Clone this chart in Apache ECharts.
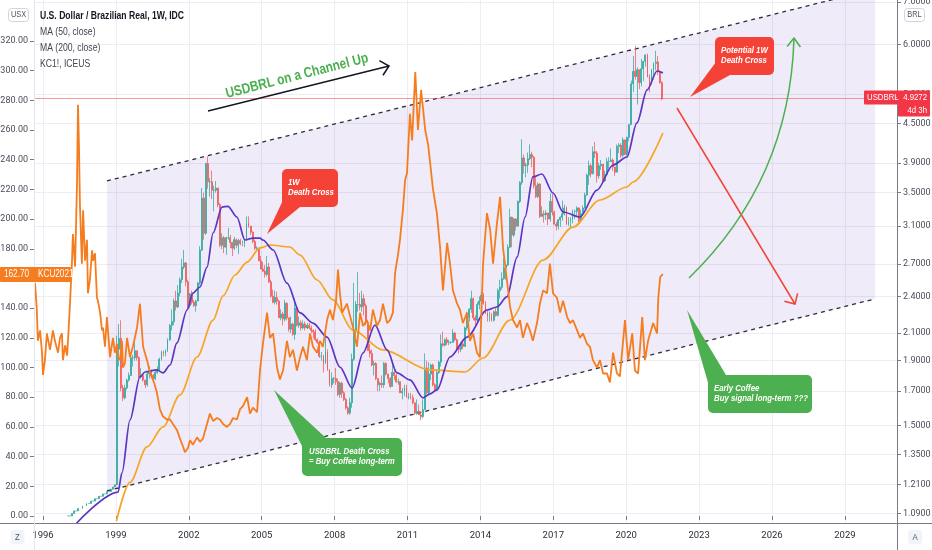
<!DOCTYPE html>
<html>
<head>
<meta charset="utf-8">
<title>USDBRL vs Coffee</title>
<script src="https://cdn.jsdelivr.net/npm/echarts@6.0.0/dist/echarts.min.js"></script>
<style>
html,body{margin:0;padding:0;background:#ffffff;}
#chart{width:932px;height:550px;}
</style>
</head>
<body>
<div id="chart"></div>
<script>
// ================= DATA =================
const yearTicks = [1996,1999,2002,2005,2008,2011,2014,2017,2020,2023,2026,2029];
const coffeeTicks = [0,20,40,60,80,100,120,140,160,180,200,220,240,260,280,300,320];
const usdTicks = [1.09,1.21,1.35,1.5,1.7,1.9,2.1,2.4,2.7,3.1,3.5,3.9,4.5,5.0,6.0,7.0];

// USDBRL monthly closes 1997-1998 (crawling peg)
const usdPre = [1.08,1.08,1.09,1.10,1.10,1.11,1.11,1.12,1.12,1.13,1.13,1.14,
                1.14,1.15,1.15,1.16,1.16,1.17,1.17,1.18,1.18,1.19,1.20,1.21];
// USDBRL monthly close / high / low, Jan 1999 .. Jun 2021
const usdClose = [
1.98,2.06,1.72,1.66,1.72,1.77,1.80,1.92,1.92,1.97,1.92,1.79,
1.80,1.77,1.74,1.81,1.83,1.80,1.78,1.82,1.84,1.91,1.96,1.95,
1.97,2.05,2.16,2.19,2.36,2.31,2.43,2.55,2.67,2.71,2.53,2.32,
2.42,2.35,2.32,2.36,2.52,2.84,3.43,3.02,3.89,3.64,3.64,3.53,
3.53,3.56,3.35,2.89,2.97,2.87,2.97,2.97,2.92,2.86,2.95,2.89,
2.94,2.91,2.91,2.94,3.13,3.10,3.03,2.93,2.86,2.86,2.73,2.65,
2.63,2.60,2.67,2.53,2.40,2.35,2.39,2.36,2.22,2.25,2.21,2.34,
2.22,2.13,2.17,2.09,2.30,2.16,2.18,2.14,2.17,2.14,2.16,2.14,
2.12,2.11,2.05,2.03,1.93,1.93,1.88,1.96,1.84,1.74,1.78,1.78,
1.76,1.68,1.75,1.69,1.65,1.60,1.57,1.63,1.91,2.12,2.33,2.33,
2.31,2.38,2.32,2.18,1.97,1.95,1.87,1.88,1.78,1.74,1.75,1.74,
1.88,1.81,1.78,1.73,1.82,1.80,1.76,1.76,1.69,1.70,1.72,1.66,
1.67,1.66,1.63,1.57,1.58,1.56,1.55,1.59,1.85,1.69,1.81,1.87,
1.74,1.71,1.82,1.89,2.02,2.01,2.05,2.03,2.03,2.03,2.10,2.05,
1.99,1.98,2.02,2.00,2.14,2.22,2.29,2.38,2.22,2.20,2.33,2.36,
2.41,2.34,2.26,2.23,2.24,2.20,2.27,2.24,2.45,2.48,2.56,2.66,
2.69,2.87,3.20,3.00,3.18,3.10,3.39,3.63,3.97,3.86,3.87,3.96,
4.02,3.98,3.59,3.45,3.61,3.21,3.24,3.23,3.25,3.18,3.39,3.26,
3.12,3.10,3.17,3.20,3.24,3.31,3.12,3.15,3.17,3.27,3.27,3.31,
3.16,3.24,3.31,3.47,3.73,3.86,3.75,4.06,4.04,3.72,3.86,3.88,
3.65,3.74,3.92,3.92,3.94,3.84,3.77,4.14,4.16,4.01,4.24,4.02,
4.28,4.48,5.20,5.44,5.34,5.47,5.22,5.49,5.64,5.77,5.33,5.19,
5.47,5.60,5.63,5.43,5.22,4.9272];
const usdHigh = [
2.08,2.17,2.20,1.74,1.74,1.78,1.82,1.95,1.94,2.03,1.97,1.93,
1.85,1.80,1.77,1.82,1.86,1.84,1.81,1.83,1.86,1.92,1.97,1.97,
1.98,2.06,2.17,2.29,2.38,2.45,2.50,2.57,2.75,2.84,2.72,2.55,
2.43,2.45,2.37,2.37,2.53,2.88,3.56,3.50,3.90,3.99,3.69,3.79,
3.59,3.65,3.56,3.37,3.02,2.99,2.98,3.08,3.00,2.92,2.98,2.96,
2.96,2.96,2.94,2.96,3.21,3.21,3.10,3.04,2.95,2.88,2.86,2.78,
2.72,2.69,2.78,2.71,2.55,2.46,2.45,2.44,2.37,2.29,2.27,2.37,
2.35,2.22,2.23,2.18,2.38,2.31,2.23,2.20,2.20,2.19,2.18,2.18,
2.16,2.13,2.13,2.06,2.04,1.96,1.94,2.10,1.98,1.84,1.82,1.79,
1.85,1.78,1.76,1.76,1.70,1.66,1.61,1.66,1.95,2.52,2.36,2.62,
2.43,2.45,2.42,2.34,2.20,2.02,1.98,1.90,1.89,1.78,1.76,1.80,
1.89,1.89,1.81,1.79,1.88,1.85,1.81,1.78,1.76,1.72,1.74,1.74,
1.69,1.69,1.68,1.63,1.65,1.62,1.58,1.65,1.95,1.90,1.89,1.88,
1.88,1.75,1.84,1.90,2.09,2.11,2.06,2.07,2.05,2.04,2.13,2.11,
2.06,2.00,2.02,2.04,2.15,2.27,2.30,2.45,2.39,2.24,2.35,2.40,
2.44,2.43,2.36,2.28,2.27,2.26,2.28,2.30,2.47,2.55,2.62,2.76,
2.70,2.90,3.30,3.21,3.19,3.19,3.40,3.65,4.25,4.02,3.90,4.05,
4.17,4.06,4.00,3.70,3.63,3.62,3.33,3.28,3.28,3.25,3.49,3.48,
3.28,3.15,3.18,3.21,3.40,3.35,3.33,3.20,3.20,3.29,3.29,3.33,
3.32,3.29,3.34,3.50,3.75,3.93,3.89,4.14,4.21,4.07,3.90,3.94,
3.88,3.79,3.97,3.98,4.11,3.96,3.84,4.17,4.19,4.19,4.28,4.24,
4.29,4.49,5.26,5.75,5.97,5.52,5.48,5.69,5.65,5.79,5.80,5.38,
5.49,5.62,5.86,5.75,5.46,5.25];
const usdLow = [
1.21,1.86,1.70,1.64,1.65,1.71,1.76,1.80,1.86,1.90,1.90,1.78,
1.78,1.76,1.72,1.73,1.78,1.78,1.76,1.77,1.81,1.83,1.90,1.93,
1.93,1.96,2.04,2.12,2.16,2.28,2.30,2.40,2.52,2.65,2.49,2.29,
2.30,2.33,2.31,2.27,2.36,2.50,2.83,2.95,3.00,3.55,3.45,3.42,
3.27,3.50,3.32,2.87,2.85,2.81,2.79,2.95,2.86,2.78,2.84,2.86,
2.80,2.89,2.88,2.87,2.94,3.08,3.00,2.91,2.84,2.82,2.73,2.65,
2.62,2.57,2.58,2.52,2.39,2.34,2.33,2.33,2.22,2.20,2.16,2.19,
2.20,2.11,2.10,2.08,2.05,2.15,2.14,2.12,2.13,2.12,2.13,2.13,
2.10,2.06,2.04,2.02,1.92,1.90,1.82,1.88,1.83,1.73,1.72,1.75,
1.74,1.67,1.66,1.66,1.64,1.59,1.56,1.56,1.60,1.90,2.07,2.27,
2.28,2.27,2.24,2.16,1.97,1.92,1.86,1.80,1.77,1.70,1.70,1.72,
1.72,1.80,1.75,1.72,1.73,1.77,1.75,1.74,1.69,1.65,1.67,1.66,
1.65,1.65,1.62,1.56,1.56,1.56,1.53,1.54,1.59,1.68,1.68,1.77,
1.73,1.70,1.70,1.81,1.86,2.00,2.00,2.01,2.01,2.02,2.03,2.04,
1.98,1.95,1.96,1.98,2.00,2.12,2.19,2.26,2.20,2.16,2.19,2.29,
2.33,2.33,2.25,2.19,2.19,2.19,2.19,2.23,2.23,2.38,2.46,2.55,
2.55,2.68,2.86,2.87,2.98,3.05,3.09,3.37,3.60,3.75,3.70,3.76,
3.94,3.84,3.55,3.43,3.43,3.19,3.21,3.14,3.17,3.11,3.15,3.22,
3.12,3.05,3.06,3.09,3.16,3.22,3.11,3.10,3.08,3.13,3.18,3.22,
3.14,3.15,3.22,3.30,3.46,3.60,3.70,3.74,3.97,3.63,3.68,3.80,
3.64,3.64,3.72,3.82,3.91,3.79,3.72,3.77,4.04,3.97,3.98,4.01,
4.00,4.22,4.48,5.05,5.28,4.82,5.10,5.15,5.25,5.53,5.32,5.04,
5.19,5.28,5.46,5.37,5.20,4.90];
const usdLast = 4.9272;

// MA (50, close)
const ma50T = [1997.36,1999.09,1999.25,1999.58,1999.99,2000.20,2000.69,2000.94,2001.23,2001.51,2001.93,2002.17,2002.46,2002.75,2003.00,2003.37,2003.61,2003.98,2004.31,2004.64,2004.93,2005.05,2005.47,2006.04,2006.58,2007.11,2007.69,2008.22,2008.72,2009.17,2009.66,2010.16,2010.57,2011.10,2011.64,2011.93,2012.21,2012.75,2013.45,2014.27,2014.68,2015.09,2015.51,2015.84,2016.16,2016.53,2016.99,2017.40,2018.10,2018.80,2019.46,2020.03,2020.44,2020.86,2021.27,2021.51];
const ma50V = [1.05,1.178,1.263,1.531,1.790,1.823,1.837,1.817,1.870,2.026,2.284,2.429,2.483,2.670,3.022,3.321,3.330,3.203,2.946,2.967,2.967,2.946,2.841,2.519,2.260,2.178,2.070,1.856,1.720,1.953,2.162,1.975,1.817,1.771,1.659,1.683,1.708,1.925,2.070,2.284,2.309,2.395,2.769,3.203,3.705,3.745,3.495,3.262,3.203,3.533,3.870,3.984,4.509,5.084,5.447,5.410];
// MA (200, close)
const ma200T = [1999.02,1999.58,2000.28,2000.94,2001.64,2002.34,2003.00,2003.41,2003.90,2004.40,2004.93,2005.34,2006.16,2006.58,2007.28,2007.93,2008.76,2009.99,2011.93,2013.37,2014.11,2015.22,2016.58,2017.81,2018.92,2020.03,2020.28,2021.51];
const ma200V = [1.06,1.22,1.388,1.493,1.677,1.925,2.202,2.404,2.594,2.719,2.862,2.893,2.872,2.789,2.547,2.369,2.123,1.975,1.837,1.823,1.918,2.202,2.739,3.088,3.407,3.572,3.638,4.347];

// KC1! coffee (US cents/lb)
const coffeeT = [1995.67,1995.74,1995.79,1995.88,1995.96,1996.00,1996.08,1996.16,1996.29,1996.41,1996.49,1996.62,1996.70,1996.78,1996.82,1996.91,1996.99,
1997.03,1997.11,1997.19,1997.23,1997.32,1997.40,1997.44,1997.48,1997.52,1997.60,1997.65,1997.73,1997.81,1997.85,1997.93,
1998.02,1998.06,1998.14,1998.22,1998.26,1998.35,1998.43,1998.47,1998.55,1998.63,1998.76,1998.88,1998.96,
1999.05,1999.09,1999.17,1999.25,1999.29,1999.37,1999.46,1999.58,1999.70,1999.87,1999.99,
2000.12,2000.28,2000.41,2000.57,2000.69,2000.81,2000.94,
2001.10,2001.23,2001.35,2001.51,2001.64,2001.76,2001.84,2001.97,
2002.05,2002.17,2002.34,2002.46,2002.58,2002.75,2002.87,
2003.00,2003.16,2003.28,2003.41,2003.57,2003.70,2003.82,2003.98,
2004.11,2004.23,2004.40,2004.52,2004.64,2004.81,2004.93,
2005.05,2005.22,2005.34,2005.47,2005.63,2005.75,2005.88,
2006.04,2006.16,2006.29,2006.45,2006.58,2006.70,2006.86,2006.99,
2007.11,2007.28,2007.40,2007.52,2007.69,2007.81,2007.93,
2008.06,2008.14,2008.22,2008.31,2008.51,2008.63,2008.76,2008.92,
2009.05,2009.17,2009.33,2009.46,2009.58,2009.74,2009.87,2009.99,
2010.16,2010.28,2010.40,2010.49,2010.60,2010.69,2010.81,2010.90,2010.98,
2011.10,2011.19,2011.32,2011.43,2011.56,2011.73,2011.85,2011.93,
2012.05,2012.21,2012.34,2012.46,2012.63,2012.75,2012.87,
2013.04,2013.16,2013.28,2013.45,2013.57,2013.70,2013.86,2013.98,
2014.11,2014.27,2014.40,2014.52,2014.68,2014.81,2014.93,
2015.09,2015.22,2015.34,2015.51,2015.63,2015.75,2015.92,
2016.04,2016.16,2016.33,2016.45,2016.58,2016.74,2016.86,2016.99,
2017.15,2017.28,2017.40,2017.57,2017.69,2017.81,2017.98,
2018.10,2018.22,2018.39,2018.51,2018.63,2018.80,2018.92,
2019.05,2019.21,2019.33,2019.46,2019.62,2019.74,2019.95,
2020.08,2020.25,2020.36,2020.49,2020.66,2020.77,2020.90,
2021.11,2021.27,2021.32,2021.40,2021.51];
const coffeeV = [157,141,118,125,110,95,105,123,112,125,118,110,120,123,105,115,108,
118,143,170,190,168,224,277,250,210,170,206,172,186,150,159,
179,172,177,147,145,137,125,127,114,134,107,120,110,
116,107,105,118,100,103,120,107,114,127,143,
114,105,96,90,83,72,67,
65,65,62,58,52,47,43,46,
51,48,53,50,52,62,69,
64,66,65,62,60,62,66,65,
72,74,80,69,73,70,98,
116,137,120,123,100,92,98,
118,107,112,98,107,114,105,123,
114,110,118,114,132,139,132,
145,166,150,137,143,135,127,114,
137,128,132,125,139,128,132,143,
130,132,137,164,175,186,206,226,231,
271,253,299,260,287,260,250,238,
220,204,181,152,184,170,152,
143,139,130,137,118,123,110,107,
170,204,193,170,197,215,181,
159,141,132,127,132,120,130,
125,118,130,143,152,150,170,150,
147,137,145,134,130,132,125,
120,123,116,114,105,100,105,
96,96,90,110,96,94,132,
105,123,98,96,134,105,118,
130,123,147,161,163];
const coffeeLast = 162.70;

// Channel Up trend lines (time, USDBRL)
const chanT = [1998.634, 2030.239];
const chanUpper = [3.652, 7.339];
const chanLower = [1.183, 2.378];

// ================= HELPERS =================
function hasFont(name) {
  const c = document.createElement('canvas').getContext('2d');
  const s = 'USDBRL 0123456789 Death Cross';
  c.font = '40px monospace'; const w1 = c.measureText(s).width;
  c.font = '40px "' + name + '", monospace'; const w2 = c.measureText(s).width;
  return Math.abs(w1 - w2) > 0.5;
}
const NARROW = hasFont('Liberation Sans Narrow');
const AXIS_FONT = NARROW ? 'Liberation Sans Narrow' : 'Roboto';
const AXIS_SIZE = NARROW ? 10.5 : 9;
const TXT_FAMILY = NARROW ? '"Liberation Sans Narrow"' : '"Liberation Sans", Arial, sans-serif';
const TXT_SCALE = NARROW ? 1 : 0.82;

const W = 932, H = 550;
const GRID = {left: 34, right: 35, top: 0, bottom: 27};
const plotRight = W - GRID.right;
const plotBottom = H - GRID.bottom;

const zip = (t, v) => t.map((x, i) => [x, v[i]]);

const candles = [];
let prevC = usdPre[0];
usdPre.forEach((c, i) => {
  candles.push([1997 + (i + 0.5) / 12, prevC, c, Math.min(prevC, c), Math.max(prevC, c)]);
  prevC = c;
});
usdClose.forEach((c, i) => {
  candles.push([1999 + (i + 0.5) / 12, prevC, c, usdLow[i], usdHigh[i]]);
  prevC = c;
});

// ================= CHART =================
const chart = echarts.init(document.getElementById('chart'), null, {renderer: 'canvas'});
const axisLabelBase = {color: '#4a4e59', fontFamily: AXIS_FONT, fontSize: AXIS_SIZE};

chart.setOption({
  animation: false,
  backgroundColor: '#ffffff',
  grid: {left: GRID.left, right: GRID.right, top: GRID.top, bottom: GRID.bottom, containLabel: false, outerBoundsMode: 'none'},
  xAxis: {
    type: 'value', min: 1995.63, max: 2031.144,
    axisLine: {show: false},
    axisTick: {show: true, customValues: yearTicks, length: 4, lineStyle: {color: '#787b86'}},
    axisLabel: Object.assign({}, axisLabelBase, {customValues: yearTicks, margin: 8, color: '#2a2e39',
      fontSize: AXIS_SIZE + 0.5, formatter: v => String(Math.round(v))}),
    splitLine: {show: true, lineStyle: {color: '#eceef3', width: 1}}
  },
  yAxis: [
    {
      type: 'value', position: 'left', min: -4.72, max: 347.6,
      axisLine: {show: false},
      axisTick: {show: true, customValues: coffeeTicks, length: 4, lineStyle: {color: '#787b86'}},
      axisLabel: Object.assign({}, axisLabelBase, {customValues: coffeeTicks, margin: 6, formatter: v => v.toFixed(2)}),
      splitLine: {show: false}
    },
    {
      type: 'log', position: 'right', min: 1.0527, max: 7.051,
      axisLine: {show: false},
      axisTick: {show: true, customValues: usdTicks, length: 4, lineStyle: {color: '#787b86'}},
      axisLabel: Object.assign({}, axisLabelBase, {customValues: usdTicks, margin: 6, formatter: v => Number(v).toFixed(4)}),
      splitLine: {show: true, lineStyle: {color: '#eceef3', width: 1}}
    }
  ],
  series: [
    {
      name: 'channel', type: 'custom', yAxisIndex: 1, silent: true, z: 1,
      renderItem: function (params, api) {
        const a = api.coord([chanT[0], chanUpper[0]]);
        const b = api.coord([chanT[1], chanUpper[1]]);
        const c = api.coord([chanT[1], chanLower[1]]);
        const d = api.coord([chanT[0], chanLower[0]]);
        return {type: 'polygon', shape: {points: [a, b, c, d]}, style: {fill: 'rgba(103,58,183,0.10)'}};
      },
      data: [[chanT[0], chanUpper[0]]]
    },
    {
      name: 'upper', type: 'line', yAxisIndex: 1, data: zip(chanT, chanUpper), symbol: 'none', silent: true, z: 3,
      lineStyle: {color: '#2a2e39', width: 1.3, type: [4, 4]}
    },
    {
      name: 'lower', type: 'line', yAxisIndex: 1, data: zip(chanT, chanLower), symbol: 'none', silent: true, z: 3,
      lineStyle: {color: '#2a2e39', width: 1.3, type: [4, 4]}
    },
    {
      name: 'USDBRL', type: 'candlestick', yAxisIndex: 1, data: candles, barWidth: 1.4, z: 4,
      itemStyle: {color: '#26a69a', color0: '#ef5350', borderColor: '#26a69a', borderColor0: '#ef5350', borderWidth: 0.8, opacity: 0.9},
      markLine: {
        silent: true, symbol: ['none', 'none'], label: {show: false},
        lineStyle: {color: 'rgba(242,54,69,0.5)', width: 1, type: 'solid'},
        data: [{yAxis: usdLast}]
      }
    },
    {
      name: 'MA (200, close)', type: 'line', yAxisIndex: 1, data: zip(ma200T, ma200V), smooth: 0.3, smoothMonotone: 'x',
      symbol: 'none', z: 5, lineStyle: {color: '#f5a623', width: 1.7}, itemStyle: {color: '#f5a623'}
    },
    {
      name: 'MA (50, close)', type: 'line', yAxisIndex: 1, data: zip(ma50T, ma50V), smooth: 0.3, smoothMonotone: 'x',
      symbol: 'none', z: 5, lineStyle: {color: '#5b35c4', width: 1.7}, itemStyle: {color: '#5b35c4'}
    },
    {
      name: 'KC1!, ICEUS', type: 'line', yAxisIndex: 0, data: zip(coffeeT, coffeeV),
      symbol: 'none', z: 6, lineStyle: {color: '#f57d1f', width: 1.8}, itemStyle: {color: '#f57d1f'}
    }
  ]
});

// ================= ANNOTATIONS =================
function T(x, y, text, o) {
  o = o || {};
  const size = o.size || 10, weight = o.weight || 'normal', fst = o.style || 'normal';
  const align = o.align || 'left';
  return {
    type: 'text', x: x, y: y, rotation: o.rot || 0, scaleX: (o.noScale ? 1 : TXT_SCALE), z: 110, silent: true,
    style: {
      text: text, fill: o.color || '#131722',
      font: fst + ' ' + weight + ' ' + size + 'px ' + TXT_FAMILY,
      textAlign: align, align: align, textVerticalAlign: 'middle', verticalAlign: 'middle'
    }
  };
}
function L(x1, y1, x2, y2, stroke, w) {
  return {type: 'line', z: 105, silent: true, shape: {x1: x1, y1: y1, x2: x2, y2: y2}, style: {stroke: stroke, lineWidth: w || 1}};
}
function chevron(tip, from, len, ang, color) {
  const a = Math.atan2(from[1] - tip[1], from[0] - tip[0]);
  const p1 = [tip[0] + len * Math.cos(a + ang), tip[1] + len * Math.sin(a + ang)];
  const p2 = [tip[0] + len * Math.cos(a - ang), tip[1] + len * Math.sin(a - ang)];
  return {type: 'polyline', z: 105, silent: true, shape: {points: [p1, tip, p2]}, style: {stroke: color, lineWidth: 1.5, fill: null}};
}
function callout(color, bx, by, bw, bh, tail, lines, tx, ty, lh) {
  const els = [
    {type: 'polygon', z: 106, silent: true, shape: {points: tail}, style: {fill: color}},
    {type: 'rect', z: 106, silent: true, shape: {x: bx, y: by, width: bw, height: bh, r: 5}, style: {fill: color}}
  ];
  lines.forEach((s, i) => els.push(T(tx, ty + i * lh, s, {size: 9.5, weight: 'bold', style: 'italic', color: '#ffffff'})));
  return els;
}

const yCof = chart.convertToPixel({yAxisIndex: 0}, coffeeLast);
const yUsd = chart.convertToPixel({yAxisIndex: 1}, usdLast);

let g = [];
// frame lines
g.push(L(0, plotBottom + 0.5, W, plotBottom + 0.5, '#787b86', 1));
g.push(L(plotRight + 0.5, 0, plotRight + 0.5, H, '#787b86', 1));
g.push(L(GRID.left + 0.5, 0, GRID.left + 0.5, H, '#e3e6ec', 1));

// legend text
g.push(T(40, 16, 'U.S. Dollar / Brazilian Real, 1W, IDC', {size: 10.5, weight: 'bold', color: '#131722'}));
g.push(T(40, 32, 'MA (50, close)', {size: 10.5, color: '#434651'}));
g.push(T(40, 48, 'MA (200, close)', {size: 10.5, color: '#434651'}));
g.push(T(40, 64, 'KC1!, ICEUS', {size: 10.5, color: '#434651'}));

// scale badges
g.push({type: 'rect', z: 110, silent: true, shape: {x: 8.5, y: 8.5, width: 20, height: 13, r: 3}, style: {fill: '#ffffff', stroke: '#d1d4dc', lineWidth: 1}});
g.push(T(18.5, 15, 'USX', {size: 9, color: '#50535e', align: 'center'}));
g.push({type: 'rect', z: 110, silent: true, shape: {x: 904.5, y: 8.5, width: 20, height: 13, r: 3}, style: {fill: '#ffffff', stroke: '#d1d4dc', lineWidth: 1}});
g.push(T(914.5, 15, 'BRL', {size: 9, color: '#50535e', align: 'center'}));
g.push({type: 'rect', z: 110, silent: true, shape: {x: 10.5, y: 530, width: 14, height: 14, r: 3}, style: {fill: '#f0f3fa'}});
g.push(T(17.5, 537, 'Z', {size: 9.5, color: '#50535e', align: 'center'}));
g.push({type: 'rect', z: 110, silent: true, shape: {x: 908, y: 530, width: 14, height: 14, r: 3}, style: {fill: '#f0f3fa'}});
g.push(T(915, 537, 'A', {size: 9.5, color: '#50535e', align: 'center'}));

// last-value tags
g.push({type: 'rect', z: 110, silent: true, shape: {x: 0, y: yCof - 7.5, width: 71, height: 15, r: 1}, style: {fill: '#f57d1f'}});
g.push(T(4, yCof, '162.70', {size: 10, color: '#ffffff'}));
g.push(T(38, yCof, 'KCU2021', {size: 10, color: '#ffffff'}));
g.push({type: 'rect', z: 110, silent: true, shape: {x: 864, y: yUsd - 8, width: 66, height: 14, r: 1}, style: {fill: '#f23645'}});
g.push({type: 'rect', z: 110, silent: true, shape: {x: 898, y: yUsd + 5, width: 32, height: 13, r: 1}, style: {fill: '#f23645'}});
g.push(T(867, yUsd - 1, 'USDBRL', {size: 9.5, color: '#ffffff'}));
g.push(T(896, yUsd - 1, '-', {size: 9.5, color: '#ffffff', align: 'center'}));
g.push(T(927, yUsd - 1, '4.9272', {size: 9.5, color: '#ffffff', align: 'right'}));
g.push(T(927, yUsd + 11.5, '4d 3h', {size: 9.5, color: '#ffffff', align: 'right'}));

// "USDBRL on a Channel Up" arrow + text
g.push(L(208, 111, 389, 66, '#131722', 1.5));
g.push(chevron([389, 66], [208, 111], 11, 0.75, '#131722'));
g.push(T(297, 76, 'USDBRL on a Channel Up', {size: 14.5, weight: 'bold', color: '#4caf50', align: 'center', rot: 0.25}));

// projection arrows
g.push(L(677, 108, 795, 304, '#f44336', 1.5));
g.push(chevron([795, 304], [677, 108], 11, 0.78, '#f44336'));
g.push({type: 'bezierCurve', z: 105, silent: true, shape: {x1: 689, y1: 278, x2: 794, y2: 38, cpx1: 790, cpy1: 180}, style: {stroke: '#4caf50', lineWidth: 1.5, fill: null}});
g.push(chevron([794, 38], [790, 180], 11, 0.65, '#4caf50'));

// callouts
g = g.concat(callout('#f44336', 282, 169, 56, 38, [[285, 196], [300, 207], [267, 234]], ['1W', 'Death Cross'], 288, 182.5, 10));
g = g.concat(callout('#f44336', 715, 37, 59, 38, [[716, 62], [730, 75], [690, 97]], ['Potential 1W', 'Death Cross'], 721, 50.5, 10));
g = g.concat(callout('#4caf50', 302, 438, 100, 38, [[303, 448], [326, 438], [274, 390]], ['USDBRL Death Cross', '= Buy Coffee long-term'], 309, 451.5, 10));
g = g.concat(callout('#4caf50', 708, 375, 104, 38, [[709, 386], [726, 375], [687, 310]], ['Early Coffee', 'Buy signal long-term ???'], 714, 388.5, 10));

chart.setOption({graphic: {elements: g}});
</script>
</body>
</html>
